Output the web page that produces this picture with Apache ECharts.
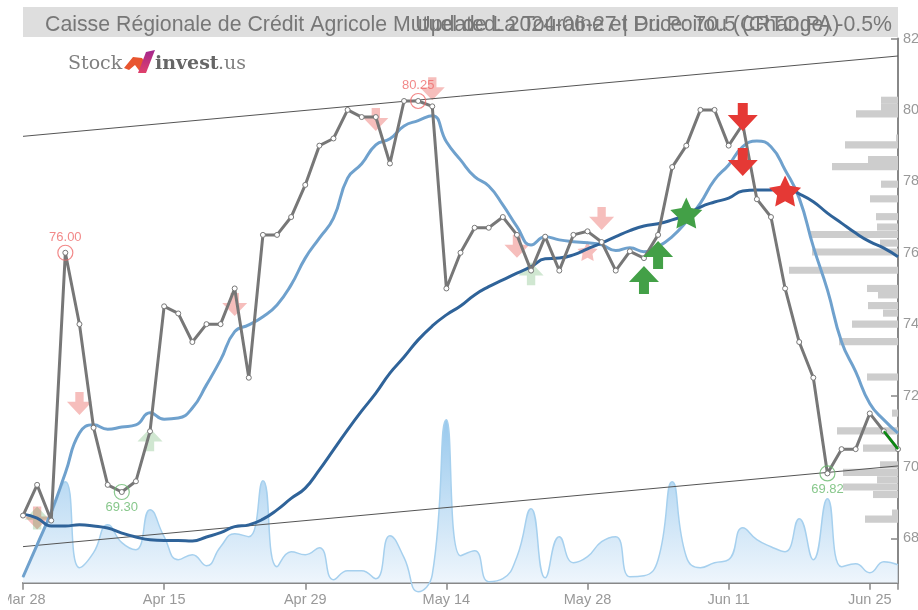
<!DOCTYPE html>
<html>
<head>
<meta charset="utf-8">
<style>
  html, body { margin: 0; padding: 0; background: #fff; }
  #main { width: 918px; height: 610px; }
</style>
<script src="https://cdn.jsdelivr.net/npm/echarts@6/dist/echarts.min.js"></script>
</head>
<body>
<div id="main"></div>
<script>
// trading days, Mar 28 - Jun 27 2024
const dates = [
  "Mar 28", "Apr 2", "Apr 3", "Apr 4", "Apr 5", "Apr 8", "Apr 9", "Apr 10", "Apr 11", "Apr 12",
  "Apr 15", "Apr 16", "Apr 17", "Apr 18", "Apr 19", "Apr 22", "Apr 23", "Apr 24", "Apr 25", "Apr 26",
  "Apr 29", "Apr 30", "May 2", "May 3", "May 6", "May 7", "May 8", "May 9", "May 10", "May 13",
  "May 14", "May 15", "May 16", "May 17", "May 20", "May 21", "May 22", "May 23", "May 24", "May 27",
  "May 28", "May 29", "May 30", "May 31", "Jun 3", "Jun 4", "Jun 5", "Jun 6", "Jun 7", "Jun 10",
  "Jun 11", "Jun 12", "Jun 13", "Jun 14", "Jun 17", "Jun 18", "Jun 19", "Jun 20", "Jun 21", "Jun 24",
  "Jun 25", "Jun 26", "Jun 27"
];
const priceTicks = [68, 70, 72, 74, 76, 78, 80, 82];

const closePrice = [
  68.64, 69.5, 68.5, 76.0, 74.0, 71.1, 69.5, 69.3, 69.6, 71.0,
  74.5, 74.3, 73.5, 74.0, 74.0, 75.0, 72.5, 76.5, 76.5, 77.0,
  77.9, 79.0, 79.2, 80.0, 79.8, 79.8, 78.5, 80.25, 80.25, 80.1,
  75.0, 76.0, 76.7, 76.7, 77.0, 76.5, 75.5, 76.45, 75.5, 76.5,
  76.6, 76.3, 75.5, 76.04, 75.85, 76.5, 78.4, 79.0, 80.0, 80.0,
  79.0, 79.6, 77.5, 77.0, 75.0, 73.5, 72.5, 69.82, 70.5, 70.5,
  71.5, 71.0, 70.5
];
const shortMa = [
  66.92, 67.82, 68.74, 69.83, 70.95, 71.18, 71.06, 71.12, 71.18, 71.52,
  71.34, 71.37, 71.65, 72.30, 73.00, 73.79, 73.98, 74.21, 74.54, 75.10,
  75.85, 76.41, 76.97, 78.09, 78.49, 79.02, 79.19, 79.55, 79.70, 79.84,
  79.11, 78.60, 78.13, 77.87, 77.34, 76.73, 76.22, 76.45, 76.36, 76.31,
  76.28, 76.22, 76.06, 76.14, 76.03, 76.17, 76.45, 76.87, 77.39, 78.04,
  78.46, 78.97, 79.13, 78.97, 78.32, 77.53, 76.17, 74.96, 73.51, 72.67,
  71.78, 71.32, 70.95
];
const longMa = [
  68.68, 68.57, 68.35, 68.35, 68.38, 68.35, 68.29, 68.15, 68.04, 67.96,
  67.94, 67.94, 67.93, 68.04, 68.16, 68.33, 68.38, 68.54, 68.80, 69.12,
  69.41, 69.92, 70.48, 71.04, 71.57, 72.07, 72.63, 73.08, 73.56, 73.95,
  74.26, 74.51, 74.82, 75.05, 75.24, 75.43, 75.61, 75.83, 75.85, 75.94,
  76.11, 76.27, 76.45, 76.62, 76.75, 76.81, 76.92, 77.06, 77.28, 77.42,
  77.53, 77.73, 77.76, 77.76, 77.81, 77.65, 77.43, 77.11, 76.83, 76.55,
  76.31, 76.13, 75.89
];
const volume = [
  5, 38, 68, 101, 15, 30, 58, 40, 33, 73,
  46, 23, 28, 17, 36, 49, 46, 102, 16, 31,
  28, 35, 3, 12, 12, 4, 47, 25, -9, 8,
  163, 27, 32, 1, 4, 26, 74, 5, 46, 20,
  26, 41, 46, 6, 7, 23, 101, 26, 15, 20,
  23, 55, 43, 36, 31, 64, 23, 84, 16, 19,
  10, 21, 18
];

// channel lines, two ends each
const upperChannel = [[0, 79.26], [62, 81.51]];
const lowerChannel = [[0, 67.77], [62, 70.03]];
const forecastLeg = [[61, 71.0], [62, 70.5]];

// volume by price, right side
const histPrices = [
  80.27, 80.07, 79.89, 79.21, 79.02, 78.61, 78.41, 77.92, 77.51, 77.01, 76.72,
  76.51, 76.27, 76.02, 75.51, 75.0, 74.82, 74.52, 74.31, 74.0, 73.51, 72.52,
  71.51, 71.01, 70.53, 70.06, 69.85, 69.64, 69.44, 69.23, 68.71, 68.54
];
const histLengths = [
  17, 17, 42, 2, 53, 30, 66, 17, 28, 22, 21,
  88, 18, 86, 109, 31, 20, 30, 15, 46, 59, 31,
  6, 61, 35, 18, 55, 21, 55, 25, 6, 33
];

// signals: [day index, price]
const sellStrong = [[51, 79.80], [51, 78.54]];
const sellStar = [[54, 77.73]];
const buyStrong = [[44, 75.24], [45, 75.94]];
const buyStar = [[47, 77.11]];
const sellPale = [[4, 71.78], [1, 68.57], [15, 74.55], [25, 79.73], [29, 80.59], [35, 76.18], [41, 76.96]];
const sellStarPale = [[40, 76.05]];
const buyPale = [[9, 70.76], [36, 75.41], [1, 68.57]];
const topPoints = [[3, 76.0], [28, 80.25]];
const bottomPoints = [[7, 69.3], [57, 69.82]];

const titleLeft = "Caisse Régionale de Crédit Agricole Mutuel de La Touraine et Du Poitou (CRTO.PA)";
const titleRight = "Updated: 2024-06-27 | Price: 70.5 (Change) -0.5%";

const ARROW_DOWN = "path://M10,0 L20,0 L20,12 L30,12 L15,28 L0,12 L10,12 Z";
const ARROW_UP = "path://M15,0 L30,16 L20,16 L20,28 L10,28 L10,16 L0,16 Z";
const STAR = "path://M50,0 L65,32 L100,38 L75,62 L81,96 L50,80 L19,96 L25,62 L0,38 L35,32 Z";

const RED = "#e53935";
const GREEN = "#43a047";
const FONT = '"Liberation Sans", Arial, sans-serif';

function signal(data, symbol, size, color, opacity, z) {
  return {
    type: "scatter",
    data: data,
    symbol: symbol,
    symbolSize: size,
    itemStyle: { color: color, opacity: opacity },
    z: z,
    silent: true,
  };
}

function extreme(data, color, labelPos) {
  return {
    type: "scatter",
    data: data,
    symbol: "circle",
    symbolSize: 15,
    itemStyle: { color: "rgba(0,0,0,0)", borderColor: color, borderWidth: 1.2 },
    label: {
      show: true,
      position: labelPos,
      distance: 1,
      color: color,
      fontFamily: FONT,
      fontSize: 13,
      formatter: (p) => p.value[1].toFixed(2),
    },
    z: 9,
  };
}

function channel(data) {
  return {
    type: "line",
    data: data,
    symbol: "none",
    lineStyle: { color: "#555", width: 1 },
    z: 4,
  };
}

let chart = echarts.init(document.getElementById("main"));
chart.setOption({
  animation: false,
  backgroundColor: "#fff",
  title: [
    { text: titleLeft, left: 40, top: 10, textStyle: { color: "#777", fontFamily: FONT, fontSize: 21.3, fontWeight: "normal" } },
    { text: titleRight, right: 21, top: 10, textStyle: { color: "#777", fontFamily: FONT, fontSize: 21.3, fontWeight: "normal" } },
  ],
  grid: { left: 23, right: 20, top: 38.5, bottom: 27.3, containLabel: false, outerBoundsMode: "none" },
  xAxis: [
    {
      type: "category",
      data: dates,
      boundaryGap: false,
      axisLine: { lineStyle: { color: "#888", width: 2 } },
      axisTick: { length: 7, lineStyle: { color: "#888", width: 1.5 }, interval: (i) => i % 10 === 0 || i === 62 },
      axisLabel: { color: "#999", fontFamily: FONT, fontSize: 14.5, margin: 10, interval: (i) => i % 10 === 0 },
      splitLine: { show: false },
    },
    { type: "value", show: false, inverse: true, min: 0, max: 875 },
  ],
  yAxis: [
    {
      type: "value",
      position: "right",
      min: 66.76,
      max: 82,
      axisLine: { show: true, lineStyle: { color: "#888", width: 2 } },
      axisTick: { show: true, inside: true, length: 7, customValues: priceTicks, lineStyle: { color: "#888", width: 1.5 } },
      axisLabel: { color: "#999", fontFamily: FONT, fontSize: 14.5, margin: 5, customValues: priceTicks },
      splitLine: { show: false },
    },
    { type: "value", show: false, min: 0, max: 544 },
  ],
  series: [
    {
      type: "custom",
      xAxisIndex: 1,
      data: histPrices.map((p, i) => [histLengths[i], p]),
      encode: { x: 0, y: 1 },
      z: 1,
      renderItem: function (params, api) {
        let end = api.coord([0, api.value(1)]);
        let start = api.coord([api.value(0), api.value(1)]);
        let h = api.size([0, 0.2])[1];
        return {
          type: "rect",
          shape: { x: start[0], y: start[1] - h / 2, width: end[0] - start[0], height: h },
          style: { fill: "#cdcdcd" },
        };
      },
    },
    {
      type: "line",
      yAxisIndex: 1,
      data: volume,
      smooth: true,
      symbol: "none",
      clip: false,
      lineStyle: { color: "#a6d0ee", width: 1.5 },
      areaStyle: {
        origin: "start",
        color: new echarts.graphic.LinearGradient(0, 0, 0, 1, [
          { offset: 0, color: "#6db2e6" },
          { offset: 1, color: "#eef5fc" },
        ]),
      },
      z: 2,
    },
    channel(upperChannel),
    channel(lowerChannel),
    signal(sellPale, ARROW_DOWN, [25, 23], RED, 0.33, 3),
    signal(sellStarPale, STAR, [20, 20], RED, 0.33, 3),
    signal(buyPale, ARROW_UP, [25, 23], GREEN, 0.25, 3),
    {
      type: "line",
      data: shortMa,
      smooth: true,
      symbol: "none",
      lineStyle: { color: "#6fa1cd", width: 3 },
      z: 5,
    },
    {
      type: "line",
      data: longMa,
      smooth: true,
      symbol: "none",
      lineStyle: { color: "#2f6399", width: 3 },
      z: 6,
    },
    {
      type: "line",
      data: closePrice,
      symbol: "circle",
      symbolSize: 5,
      showAllSymbol: true,
      lineStyle: { color: "#777", width: 3 },
      itemStyle: { color: "#fff", borderColor: "#777", borderWidth: 1 },
      z: 7,
    },
    {
      type: "line",
      data: forecastLeg,
      symbol: "none",
      lineStyle: { color: "#0b8a12", width: 2.5 },
      z: 8,
    },
    extreme(topPoints, "#ef6c6c", "top"),
    extreme(bottomPoints, "#69b96e", "bottom"),
    signal(sellStrong, ARROW_DOWN, [30, 28], RED, 1, 10),
    signal(sellStar, STAR, [32, 31], RED, 1, 10),
    signal(buyStrong, ARROW_UP, [30, 28], GREEN, 1, 10),
    signal(buyStar, STAR, [32, 31], GREEN, 1, 10),
  ],
  graphic: [
    // title band
    { type: "rect", z: -1, shape: { x: 23, y: 7, width: 875, height: 30 }, style: { fill: "#dedede" } },
    // the first date label is cut at the container edge in the original
    { type: "rect", z: 100, shape: { x: 0, y: 588, width: 8, height: 22 }, style: { fill: "#fff" } },
    // logo
    { type: "text", z: 20, x: 68, y: 55, style: { text: "Stock", fill: "#808080", font: '300 19px "DejaVu Serif", serif' } },
    {
      type: "polygon",
      z: 20,
      shape: { points: [[124, 68], [133, 57], [142, 58], [146, 64], [141, 73], [135, 65], [129, 70]] },
      style: { fill: "#e8552f" },
    },
    {
      type: "polygon",
      z: 21,
      shape: { points: [[146, 52], [155, 50], [146, 73], [138, 73]] },
      style: {
        fill: new echarts.graphic.LinearGradient(0, 0, 0, 1, [
          { offset: 0, color: "#a3268f" },
          { offset: 1, color: "#e0406a" },
        ]),
      },
    },
    { type: "text", z: 20, x: 155, y: 55, style: { text: "invest", fill: "#666", font: 'bold 19px "DejaVu Serif", serif' } },
    { type: "text", z: 20, x: 218, y: 55, style: { text: ".us", fill: "#808080", font: '300 19px "DejaVu Serif", serif' } },
  ],
});
</script>
</body>
</html>
